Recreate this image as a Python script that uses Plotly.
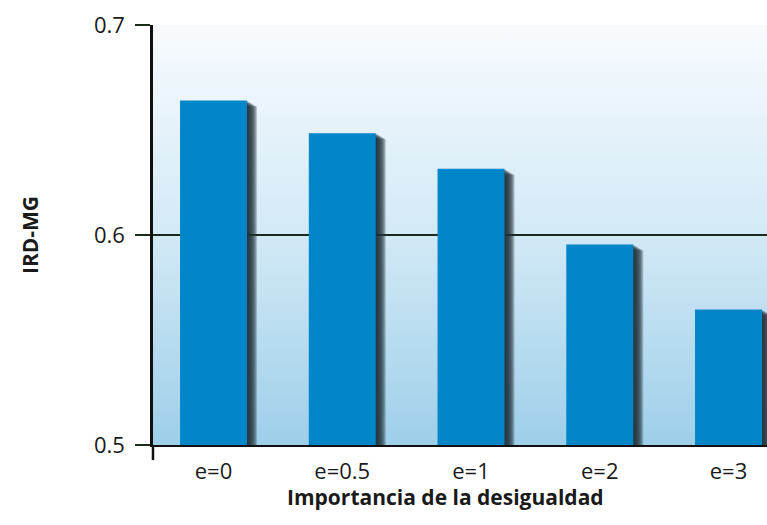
import base64
import plotly.graph_objects as go

categories = ["e=0", "e=0.5", "e=1", "e=2", "e=3"]
values = [0.664, 0.6485, 0.6315, 0.5955, 0.5645]
y_ticks = [0.5, 0.6, 0.7]
y_tick_labels = ["0.5", "0.6", "0.7"]
x_title = "Importancia de la desigualdad"
y_title = "IRD-MG"

BAR_COLOR = "#0086c9"
SHADOW_COLOR = "#22323b"
FONT = "Open Sans"

svg = ('<svg xmlns="http://www.w3.org/2000/svg" width="10" height="100" preserveAspectRatio="none">'
       '<defs><linearGradient id="g" x1="0" y1="0" x2="0" y2="1">'
       '<stop offset="0" stop-color="#f8fbfe"/><stop offset="0.5" stop-color="#d2e9f6"/>'
       '<stop offset="1" stop-color="#9ecfe9"/></linearGradient></defs>'
       '<rect width="10" height="100" fill="url(#g)"/></svg>')
bg_uri = "data:image/svg+xml;base64," + base64.b64encode(svg.encode()).decode()

bar_w = 0.52
px_x = 1 / 128.75
px_y = 0.2 / 420

fig = go.Figure()
for k in range(10, 0, -1):
    fig.add_trace(go.Bar(
        x=categories, y=[v - (k * 0.6) * px_y for v in values],
        width=bar_w, offset=-bar_w / 2 + k * px_x,
        marker=dict(color=SHADOW_COLOR, line=dict(width=0)),
        opacity=0.26, hoverinfo="skip", showlegend=False,
    ))
fig.add_trace(go.Bar(
    x=categories, y=values, width=bar_w, offset=-bar_w / 2,
    marker=dict(color=BAR_COLOR, line=dict(width=0)), showlegend=False,
))

fig.update_layout(
    width=767, height=525,
    margin=dict(l=153, r=0, t=25, b=80),
    paper_bgcolor="white", plot_bgcolor="rgba(0,0,0,0)",
    barmode="overlay",
    font=dict(family=FONT, size=22, color="#1a1a1a"),
    images=[dict(source=bg_uri, xref="paper", yref="paper", x=0, y=1,
                 sizex=1, sizey=1, sizing="stretch", layer="below",
                 xanchor="left", yanchor="top")],
    xaxis=dict(
        range=[-0.47, 4.299], showgrid=False, ticks="", showline=True,
        linecolor="#111", linewidth=2, ticklabelstandoff=6,
        tickfont=dict(size=22),
    ),
    yaxis=dict(
        range=[0.5, 0.7], tickvals=y_ticks, ticktext=y_tick_labels,
        showgrid=True, gridcolor="#1c2a1c", gridwidth=1.5,
        ticks="outside", ticklen=15, tickwidth=1.5, tickcolor="#1c2a1c",
        showline=True, linecolor="#111", linewidth=2.5,
        zeroline=False, ticklabelstandoff=6,
        tickfont=dict(size=22),
        title=dict(text="<b>" + y_title + "</b>", standoff=50, font=dict(size=21)),
    ),
    annotations=[dict(text="<b>" + x_title + "</b>", xref="paper", yref="paper",
                      x=0.4756, y=-0.124, xanchor="center", yanchor="middle",
                      showarrow=False, font=dict(size=21))],
    shapes=[dict(type="line", xref="paper", yref="paper", x0=0, x1=0,
                 y0=-0.036, y1=0, line=dict(color="#111", width=2.5))],
)

fig.write_html("out.html")
